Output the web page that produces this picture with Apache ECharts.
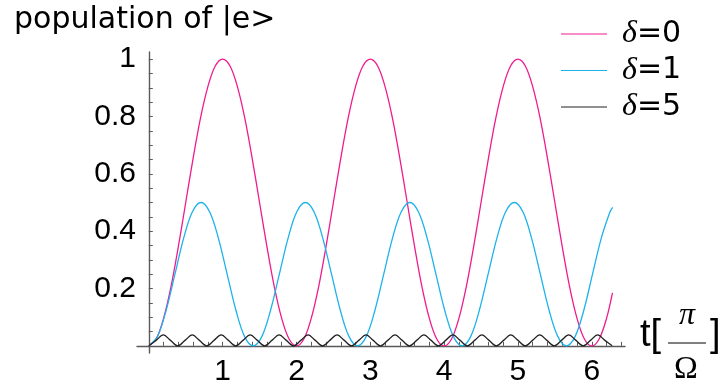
<!DOCTYPE html>
<html>
<head>
<meta charset="utf-8">
<script src="https://cdn.jsdelivr.net/npm/echarts@6/dist/echarts.min.js"></script>
<style>
html,body{margin:0;padding:0;background:#fff;}
#chart{width:724px;height:387px;}
</style>
</head>
<body>
<div id="chart"></div>
<script>
// time in units of pi/Omega
var tA = [0,0.1,0.2,0.3,0.4,0.5,0.6,0.7,0.8,0.9,1.0,1.1,1.2,1.3,1.4,1.5,1.6,1.7,1.8,1.9,
  2.0,2.1,2.2,2.3,2.4,2.5,2.6,2.7,2.8,2.9,3.0,3.1,3.2,3.3,3.4,3.5,3.6,3.7,3.8,3.9,
  4.0,4.1,4.2,4.3,4.4,4.5,4.6,4.7,4.8,4.9,5.0,5.1,5.2,5.3,5.4,5.5,5.6,5.7,5.8,5.9,
  6.0,6.1,6.2,6.28];
// delta = 0
var popD0 = [0,0.024,0.096,0.206,0.346,0.5,0.654,0.794,0.904,0.976,1.0,0.976,0.904,0.794,0.654,0.5,0.346,0.206,0.096,0.024,
  0,0.024,0.096,0.206,0.346,0.5,0.654,0.794,0.904,0.976,1.0,0.976,0.904,0.794,0.654,0.5,0.346,0.206,0.096,0.024,
  0,0.024,0.096,0.206,0.346,0.5,0.654,0.794,0.904,0.976,1.0,0.976,0.904,0.794,0.654,0.5,0.346,0.206,0.096,0.024,
  0,0.024,0.096,0.185];
// delta = 1
var tB = [0,0.118,0.236,0.354,0.471,0.589,0.707,0.825,0.943,1.061,1.179,1.296,
  1.414,1.532,1.650,1.768,1.886,2.003,2.121,2.239,2.357,2.475,2.593,2.711,
  2.828,2.946,3.064,3.182,3.300,3.418,3.536,3.653,3.771,3.889,4.007,4.125,
  4.243,4.361,4.478,4.596,4.714,4.832,4.950,5.068,5.185,5.303,5.421,5.539,
  5.657,5.775,5.893,6.010,6.128,6.246,6.283];
var popD1 = [0,0.033,0.125,0.25,0.375,0.467,0.5,0.467,0.375,0.25,0.125,0.033,
  0,0.033,0.125,0.25,0.375,0.467,0.5,0.467,0.375,0.25,0.125,0.033,
  0,0.033,0.125,0.25,0.375,0.467,0.5,0.467,0.375,0.25,0.125,0.033,
  0,0.033,0.125,0.25,0.375,0.467,0.5,0.467,0.375,0.25,0.125,0.033,
  0,0.033,0.125,0.25,0.375,0.467,0.483];
// delta = 5
var tC = [0,0.098,0.196,0.294,0.392,0.490,0.588,0.686,0.784,0.883,0.981,1.079,1.177,1.275,1.373,1.471,
  1.569,1.667,1.765,1.863,1.961,2.059,2.157,2.255,2.353,2.452,2.550,2.648,2.746,2.844,2.942,3.040,
  3.138,3.236,3.334,3.432,3.530,3.628,3.726,3.824,3.922,4.021,4.119,4.217,4.315,4.413,4.511,4.609,
  4.707,4.805,4.903,5.001,5.099,5.197,5.295,5.393,5.491,5.590,5.688,5.786,5.884,5.982,6.080,6.178,6.276];
var popD5 = [0,0.019,0.038,0.019,0,0.019,0.038,0.019,0,0.019,0.038,0.019,0,0.019,0.038,0.019,
  0,0.019,0.038,0.019,0,0.019,0.038,0.019,0,0.019,0.038,0.019,0,0.019,0.038,0.019,
  0,0.019,0.038,0.019,0,0.019,0.038,0.019,0,0.019,0.038,0.019,0,0.019,0.038,0.019,
  0,0.019,0.038,0.019,0,0.019,0.038,0.019,0,0.019,0.038,0.019,0,0.019,0.038,0.019,0];
var seriesNames = ['δ=0','δ=1','δ=5'];
var seriesColors = ['#ef1b8f','#1eb2ea','#222222'];
var xLabels = [1,2,3,4,5,6];
var yLabels = [0.2,0.4,0.6,0.8,1];

function pairs(xs, ys){ return xs.map(function(x,i){ return [x, ys[i]]; }); }
// tick marks: every 0.2 on x, every 0.05 on y
var xTickVals = [], yTickVals = [];
for (var i = 1; i <= 32; i++) xTickVals.push(Math.round(i * 2) / 10);
for (var j = 1; j <= 20; j++) yTickVals.push(Math.round(j * 5) / 100);

var chart = echarts.init(document.getElementById('chart'));
var font = '"Liberation Sans", Arial, sans-serif';
var wideFont = '"DejaVu Sans", sans-serif';
var serif = '"Liberation Serif", "DejaVu Serif", serif';
var axisCol = '#5a5a5a';
var option = {
  animation: false,
  backgroundColor: '#ffffff',
  grid: {left: 137, right: 99, top: 52, bottom: 34, containLabel: false},
  xAxis: {
    type: 'value', min: -0.16, max: 6.45,
    axisLine: {onZero: true, lineStyle: {color: axisCol, width: 1.4}},
    axisTick: {show: true, inside: true, length: 4, lineStyle: {color: axisCol, width: 1}, customValues: xTickVals},
    axisLabel: {
      color: '#000', fontFamily: font, fontSize: 30, margin: 4,
      customValues: xLabels, formatter: function(v){ return String(v); }
    },
    splitLine: {show: false}
  },
  yAxis: {
    type: 'value', min: -0.025, max: 1.025,
    axisLine: {onZero: true, lineStyle: {color: axisCol, width: 1.4}},
    axisTick: {show: true, inside: true, length: 4, lineStyle: {color: axisCol, width: 1}, customValues: yTickVals},
    axisLabel: {
      color: '#000', fontFamily: font, fontSize: 30, margin: 1,
      customValues: yLabels, formatter: function(v){ return String(v); }
    },
    splitLine: {show: false}
  },
  legend: {
    data: seriesNames, orient: 'vertical', left: 556, top: 13, itemGap: 4.5,
    itemWidth: 46, itemHeight: 30, icon: 'path://M0,15L46,15L46,16L0,16Z',
    textStyle: {fontSize: 30, fontFamily: wideFont, color: '#000',
      rich: {d: {fontFamily: serif, fontStyle: 'italic', fontSize: 32, padding: [0,0,0,10]}, n: {fontFamily: wideFont, fontSize: 30}}},
    formatter: function(n){ return '{d|δ}{n|' + n.slice(1) + '}'; }
  },
  series: [0,1,2].map(function(i){
    var d = i === 0 ? pairs(tA, popD0) : (i === 1 ? pairs(tB, popD1) : pairs(tC, popD5));
    return {
      name: seriesNames[i], type: 'line', data: d, smooth: 0.35, showSymbol: false,
      lineStyle: {color: seriesColors[i], width: 1.3}, itemStyle: {color: seriesColors[i]}
    };
  }),
  graphic: [
    {type: 'text', left: 14, top: 5, style: {text: 'population of |e>', fontSize: 30, fontFamily: wideFont, fill: '#000'}},
    {type: 'text', left: 640, top: 317, style: {text: 't[', fontSize: 38, fontFamily: font, fill: '#000'}},
    {type: 'text', left: 679, top: 300, style: {text: 'π', fontSize: 32, fontFamily: serif, fontStyle: 'italic', fill: '#000'}},
    {type: 'line', shape: {x1: 668, y1: 343, x2: 706, y2: 343}, style: {stroke: '#000', lineWidth: 1}},
    {type: 'text', left: 674, top: 354, style: {text: 'Ω', fontSize: 32, fontFamily: serif, fill: '#000'}},
    {type: 'text', left: 710, top: 317, style: {text: ']', fontSize: 38, fontFamily: font, fill: '#000'}}
  ]
};
chart.setOption(option);
</script>
</body>
</html>
